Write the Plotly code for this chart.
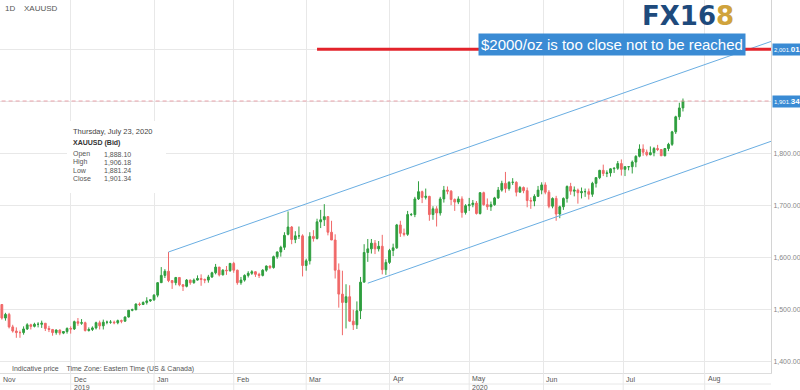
import plotly.graph_objects as go

# ---------------- data (XAUUSD daily) ----------------
nov_o = [1512,1514,1510,1484,1491,1467,1459,1456,1456,1463,1471,1468,1472,1472,1474,1464,1462,1456,1461,1455,1458]
nov_h = [1517,1515,1511,1494,1494,1471,1466,1460,1468,1474,1473,1475,1476,1479,1474,1469,1463,1462,1462,1459,1466]
nov_l = [1503,1503,1481,1479,1464,1456,1446,1446,1452,1461,1462,1466,1466,1465,1459,1457,1450,1452,1451,1453,1454]
nov_c = [1514,1510,1484,1491,1467,1459,1456,1456,1463,1471,1468,1472,1472,1474,1464,1462,1456,1461,1455,1458,1464]

dec_o = [1464,1463,1477,1474,1475,1460,1462,1465,1475,1469,1476,1476,1476,1475,1479,1478,1486,1499,1500,1511,1510,1514]
dec_h = [1468,1479,1484,1482,1477,1466,1468,1477,1479,1481,1479,1480,1479,1481,1481,1487,1499,1502,1512,1514,1516,1524]
dec_l = [1454,1461,1469,1471,1458,1458,1459,1462,1462,1462,1472,1473,1472,1472,1474,1477,1485,1497,1499,1507,1509,1510]
dec_c = [1463,1477,1474,1475,1460,1462,1465,1475,1469,1476,1476,1476,1475,1479,1478,1486,1499,1500,1511,1510,1514,1517]

jan_o = [1517,1519,1528,1552,1566,1574,1556,1552,1562,1548,1545,1557,1552,1557,1560,1558,1557,1563,1571,1582,1567,1576,1575]
jan_h = [1520,1530,1553,1582,1578,1611,1557,1563,1562,1549,1559,1558,1560,1566,1568,1560,1567,1573,1588,1582,1578,1584,1590]
jan_l = [1515,1517,1524,1552,1561,1553,1540,1547,1545,1536,1543,1548,1550,1556,1546,1551,1552,1561,1568,1564,1566,1567,1573]
jan_c = [1519,1528,1552,1566,1574,1556,1552,1562,1548,1545,1557,1552,1557,1560,1558,1557,1563,1571,1582,1567,1576,1575,1589]

feb_o = [1589,1576,1552,1557,1566,1570,1573,1568,1566,1576,1584,1581,1602,1611,1620,1645,1659,1635,1642,1642]
feb_h = [1592,1577,1563,1568,1574,1576,1574,1571,1578,1585,1585,1604,1612,1623,1649,1689,1661,1651,1660,1645]
feb_l = [1571,1548,1548,1554,1562,1567,1563,1561,1564,1573,1578,1579,1598,1602,1615,1643,1626,1628,1636,1564]
feb_c = [1576,1552,1557,1566,1570,1573,1568,1566,1576,1584,1581,1602,1611,1620,1643,1659,1635,1642,1642,1585]

mar_o = [1585,1594,1641,1637,1669,1673,1679,1649,1634,1576,1530,1514,1525,1478,1471,1498,1553,1610,1617,1628,1617,1622]
mar_h = [1598,1649,1653,1675,1692,1703,1680,1671,1645,1589,1575,1549,1547,1500,1516,1563,1626,1636,1636,1634,1632,1644]
mar_l = [1575,1587,1631,1635,1657,1661,1643,1634,1560,1504,1451,1464,1477,1461,1463,1482,1553,1592,1608,1607,1612,1568]
mar_c = [1594,1641,1637,1669,1673,1679,1649,1634,1576,1530,1514,1525,1478,1471,1498,1553,1610,1617,1628,1617,1622,1577]

apr_o = [1577,1591,1614,1619,1663,1647,1645,1683,1683,1713,1727,1716,1718,1683,1694,1686,1713,1730,1728,1712,1707,1713]
apr_h = [1597,1617,1627,1665,1671,1656,1690,1686,1717,1747,1729,1733,1719,1699,1699,1717,1738,1737,1730,1714,1718,1718]
apr_l = [1567,1588,1603,1617,1640,1641,1642,1680,1678,1711,1705,1712,1671,1673,1660,1681,1706,1722,1701,1690,1703,1677]
apr_c = [1591,1614,1619,1663,1647,1645,1683,1683,1713,1727,1716,1718,1683,1694,1686,1713,1730,1728,1712,1707,1713,1687]

may_o = [1687,1700,1702,1705,1685,1725,1702,1698,1702,1715,1730,1743,1733,1745,1745,1726,1735,1729,1710,1709,1718]
may_h = [1703,1715,1711,1709,1726,1727,1714,1708,1717,1736,1748,1765,1747,1753,1747,1738,1737,1735,1716,1722,1738]
may_l = [1683,1690,1697,1683,1683,1700,1692,1690,1700,1713,1727,1725,1729,1740,1718,1726,1724,1697,1694,1699,1717]
may_c = [1700,1702,1705,1685,1725,1702,1698,1702,1715,1730,1743,1733,1745,1745,1726,1735,1729,1710,1709,1718,1730]

jun_o = [1730,1740,1726,1699,1714,1684,1698,1714,1737,1728,1730,1725,1727,1727,1722,1743,1754,1768,1762,1763,1771,1772]
jun_h = [1745,1745,1730,1716,1719,1700,1716,1739,1744,1737,1733,1735,1733,1733,1746,1755,1769,1779,1768,1772,1774,1786]
jun_l = [1722,1722,1695,1695,1671,1676,1692,1706,1721,1718,1704,1714,1717,1712,1717,1735,1751,1757,1755,1756,1763,1769]
jun_c = [1740,1726,1699,1714,1684,1698,1714,1737,1728,1730,1725,1727,1727,1722,1743,1754,1768,1762,1763,1771,1772,1781]

jul_o = [1781,1770,1775,1775,1784,1795,1809,1803,1798,1802,1810,1808,1796,1810,1818,1842,1871,1888.10]
jul_h = [1789,1776,1776,1787,1797,1818,1818,1808,1814,1813,1817,1809,1811,1821,1844,1873,1898,1906.18]
jul_l = [1758,1757,1768,1762,1774,1793,1796,1795,1797,1795,1805,1796,1795,1805,1815,1838,1865,1881.24]
jul_c = [1770,1775,1775,1784,1795,1809,1803,1798,1802,1810,1808,1796,1810,1818,1842,1871,1888,1901.34]

opens = nov_o + dec_o + jan_o + feb_o + mar_o + apr_o + may_o + jun_o + jul_o
highs = nov_h + dec_h + jan_h + feb_h + mar_h + apr_h + may_h + jun_h + jul_h
lows = nov_l + dec_l + jan_l + feb_l + mar_l + apr_l + may_l + jun_l + jul_l
closes = nov_c + dec_c + jan_c + feb_c + mar_c + apr_c + may_c + jun_c + jul_c
assert len(opens) == len(highs) == len(lows) == len(closes) == 191
bars = list(range(len(opens)))  # trading-session index

# month axis (session index of each month's first bar)
month_names = ["Dec", "Jan", "Feb", "Mar", "Apr", "May", "Jun", "Jul", "Aug"]
month_ticks = [21, 44, 66, 86, 109, 131, 151.5, 173.5, 196]
year_labels = {"Dec": "2019", "May": "2020"}

price_ticks = [1400, 1500, 1600, 1700, 1800, 1900, 2000]

# drawings
upper_x, upper_y = [48, 216], [1611, 2020]
lower_x, lower_y = [103, 216], [1551, 1828]
target_level = 2001.01
target_start = 89
last_close = 1901.34

info_title = "Thursday, July 23, 2020"
info_rows = [("Open", "1,888.10"), ("High", "1,906.18"), ("Low", "1,881.24"), ("Close", "1,901.34")]

# ---------------- figure ----------------
W, H = 800, 390
ML, MR, MT, MB = 0, 29, 0, 17
PW, PH = W - ML - MR, H - MT - MB


def px(x):
    return (x - ML) / PW


def py(y):
    return 1 - (y - MT) / PH


GRID = "#e8e8e8"
BLUE = "#3a8bd4"

fig = go.Figure()

fig.add_trace(go.Scatter(x=[0, 216], y=[last_close, last_close], mode="lines",
                         line=dict(color="#e9a2aa", width=1, dash="4px,3px"), hoverinfo="skip"))
fig.add_trace(go.Scatter(x=upper_x, y=upper_y, mode="lines",
                         line=dict(color="#6aaee2", width=1), hoverinfo="skip"))
fig.add_trace(go.Scatter(x=lower_x, y=lower_y, mode="lines",
                         line=dict(color="#6aaee2", width=1), hoverinfo="skip"))

fig.add_trace(go.Candlestick(
    x=bars, open=opens, high=highs, low=lows, close=closes,
    increasing=dict(line=dict(color="#2f9f3f", width=1), fillcolor="#2f9f3f"),
    decreasing=dict(line=dict(color="#f06868", width=1), fillcolor="#f06868"),
    whiskerwidth=0,
))

fig.add_trace(go.Scatter(x=[target_start, 216], y=[target_level, target_level], mode="lines",
                         line=dict(color="#e3232b", width=3), hoverinfo="skip"))

shapes = []
# info box background
shapes.append(dict(type="rect", xref="paper", yref="paper",
                   x0=px(67), x1=px(166), y0=py(193), y1=py(121),
                   fillcolor="white", line=dict(width=0), layer="above"))
# extensions of month gridlines through the label band
for t in month_ticks:
    shapes.append(dict(type="line", xref="x", yref="paper", x0=t, x1=t,
                       y0=py(390), y1=0, line=dict(color=GRID, width=1)))
# band line under the month names
shapes.append(dict(type="line", xref="paper", yref="paper", x0=0, x1=1,
                   y0=py(384), y1=py(384), line=dict(color=GRID, width=1)))

ann = []
small = dict(family="Liberation Sans, Arial, sans-serif", size=7, color="#555555")

# month labels
ann.append(dict(x=px(1), y=py(379), xref="paper", yref="paper", text="Nov",
                showarrow=False, xanchor="left", yanchor="middle", font=small))
for name, t in zip(month_names, month_ticks):
    ann.append(dict(x=t, y=py(379), xref="x", yref="paper", text=name, showarrow=False,
                    xanchor="left", yanchor="middle", xshift=1, font=small))
    if name in year_labels:
        ann.append(dict(x=t, y=py(387), xref="x", yref="paper", text=year_labels[name],
                        showarrow=False, xanchor="left", yanchor="middle", xshift=1, font=small))

# header
ann.append(dict(x=px(3), y=py(8), xref="paper", yref="paper", text="1D",
                showarrow=False, xanchor="left", yanchor="middle",
                font=dict(family="Liberation Sans, Arial", size=8, color="#555555")))
ann.append(dict(x=px(22), y=py(8), xref="paper", yref="paper", text="XAUUSD",
                showarrow=False, xanchor="left", yanchor="middle",
                font=dict(family="Liberation Sans, Arial", size=8, color="#555555")))

# footer
ann.append(dict(x=px(10), y=py(369), xref="paper", yref="paper",
                text="Indicative price&nbsp;&nbsp;&nbsp;&nbsp;Time Zone: Eastern Time (US &amp; Canada)",
                showarrow=False, xanchor="left", yanchor="middle", font=small))

# info box
ann.append(dict(x=px(71), y=py(131), xref="paper", yref="paper", text=info_title,
                showarrow=False, xanchor="left", yanchor="middle",
                font=dict(family="Liberation Sans, Arial", size=7.5, color="#444444")))
ann.append(dict(x=px(71), y=py(143), xref="paper", yref="paper", text="<b>XAUUSD (Bid)</b>",
                showarrow=False, xanchor="left", yanchor="middle",
                font=dict(family="Liberation Sans, Arial", size=7, color="#333333")))
for i, (lab, val) in enumerate(info_rows):
    yy = 154 + i * 8.2
    ann.append(dict(x=px(71), y=py(yy), xref="paper", yref="paper", text=lab,
                    showarrow=False, xanchor="left", yanchor="middle", font=small))
    ann.append(dict(x=px(133), y=py(yy), xref="paper", yref="paper", text=val,
                    showarrow=False, xanchor="right", yanchor="middle", font=small))

# logo
ann.append(dict(x=px(688), y=py(16), xref="paper", yref="paper",
                text="<b><span style='color:#1e4a7c'>FX16</span><span style='color:#d0a33c'>8</span></b>",
                showarrow=False, xanchor="center", yanchor="middle",
                font=dict(family="DejaVu Sans, sans-serif", size=26)))

# callout
ann.append(dict(x=px(612), y=py(45), xref="paper", yref="paper",
                text="$2000/oz is too close not to be reached",
                showarrow=False, xanchor="center", yanchor="middle",
                bgcolor=BLUE, borderpad=2,
                font=dict(family="Liberation Sans, Arial, sans-serif", size=15, color="white")))

# price flags on the right axis
for lvl in (target_level, last_close):
    s = f"{lvl:,.2f}"
    head, tail = s[:-2], s[-2:]
    ann.append(dict(x=1.0, y=lvl, xref="paper", yref="y",
                    text=f"<span style='font-size:6px'>{head}</span><b>{tail}</b>",
                    showarrow=False, xanchor="left", yanchor="middle", xshift=1,
                    bgcolor=BLUE, borderpad=1,
                    font=dict(family="Liberation Sans, Arial", size=8, color="white")))

tick_text = [f"{v:,.2f}" if v < 1900 else "" for v in price_ticks]

fig.update_layout(
    width=W, height=H,
    margin=dict(l=ML, r=MR, t=MT, b=MB),
    paper_bgcolor="white", plot_bgcolor="white",
    showlegend=False,
    shapes=shapes, annotations=ann,
    xaxis=dict(range=[1.49, 214.3], tickvals=month_ticks, showticklabels=False,
               showgrid=True, gridcolor=GRID, zeroline=False, showline=True,
               linecolor="#dddddd", rangeslider=dict(visible=False), ticks=""),
    yaxis=dict(side="right", range=[1378.3, 2095.6], tickvals=price_ticks, ticktext=tick_text,
               showgrid=True, gridcolor=GRID, zeroline=False, showline=True,
               linecolor="#d4d4d4", ticks="",
               tickfont=dict(family="Liberation Sans, Arial", size=7, color="#888888")),
)

fig.write_html("out.html",
               config={"displayModeBar": False},
               post_script="document.body.style.margin='0';document.body.style.padding='0';")
